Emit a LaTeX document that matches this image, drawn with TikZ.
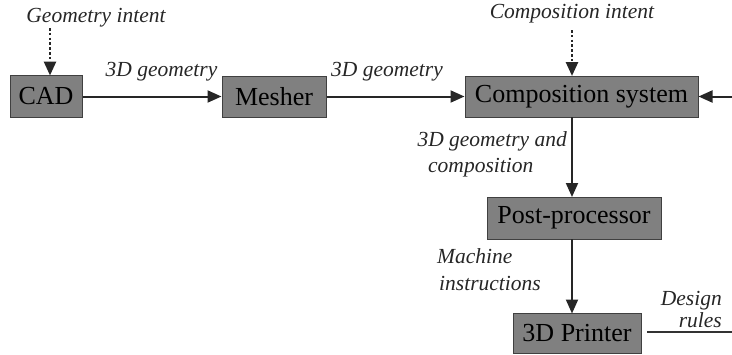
\documentclass[tikz,border=0pt]{standalone}
\usepackage{fontspec}
\setmainfont{Liberation Serif}
\usetikzlibrary{arrows.meta}
\begin{document}
\begin{tikzpicture}[x=1pt,y=-1pt,
  stage/.style={draw=black!75, line width=1pt, fill=black!50, inner sep=0pt,
    font=\fontsize{26}{28}\selectfont, text=black},
  lbl/.style={font=\fontsize{21.5}{24}\selectfont\itshape, text=black!85, inner sep=0pt},
  flow/.style={line width=2pt, draw=black!85, -{Triangle[length=14pt,width=12pt]}},
  intent/.style={line width=2.6pt, draw=black!85, dash pattern=on 2.6pt off 2.2pt,
    -{Triangle[length=14pt,width=12pt]}}]
\useasboundingbox (0,0) rectangle (732,354);

% processing stages
\node[stage, minimum width=72pt, minimum height=42pt] (cad) at (46,96.5) {CAD};
\node[stage, minimum width=104pt, minimum height=41pt] (mesher) at (274,96.5) {Mesher};
\node[stage, minimum width=233pt, minimum height=41pt] (comp) at (581.5,96.5) {Composition system};
\node[stage, minimum width=174pt, minimum height=42pt] (post) at (574,218) {Post-processor};
\node[stage, minimum width=128pt, minimum height=40pt] (printer) at (577,333.5) {3D Printer};

% inputs and labels
\node[lbl] (gint) at (96,18) {Geometry intent};
\node[lbl] (cint) at (572,14) {Composition intent};
\node[lbl] (g1) at (161.5,72) {3D geometry};
\node[lbl] (g2) at (387,72) {3D geometry};
\node[lbl, anchor=east] (gc1) at (567,141) {3D geometry and};
\node[lbl, anchor=west] (gc2) at (428,168) {composition};
\node[lbl, anchor=west] (mi1) at (437,256) {Machine};
\node[lbl, anchor=west] (mi2) at (439,284) {instructions};
\node[lbl, anchor=east] (dr1) at (722,301) {Design};
\node[lbl, anchor=east] (dr2) at (722,320) {rules};

\coordinate (gtop) at (50,28);
\coordinate (ctop) at (572,30);
\coordinate (ctarget) at (572,76);
\coordinate (gtarget) at (50,75.5);
\coordinate (feedin) at (732,96.5);
\coordinate (cbot) at (572,117);
\coordinate (ptop) at (572,197);
\coordinate (pbot) at (572,239);
\coordinate (prtop) at (572,313.5);
\coordinate (rule0) at (647,332);
\coordinate (rule1) at (732,332);

% connectors
\draw[intent] (gtop) -- (gtarget);
\draw[intent] (ctop) -- (ctarget);
\draw[flow] (cad.east) -- (mesher.west);
\draw[flow] (mesher.east) -- (comp.west);
\draw[flow] (feedin) -- (comp.east);
\draw[flow] (cbot) -- (ptop);
\draw[flow] (pbot) -- (prtop);
\draw[line width=1.2pt, draw=black!80] (rule0) -- (rule1);
\end{tikzpicture}
\end{document}
